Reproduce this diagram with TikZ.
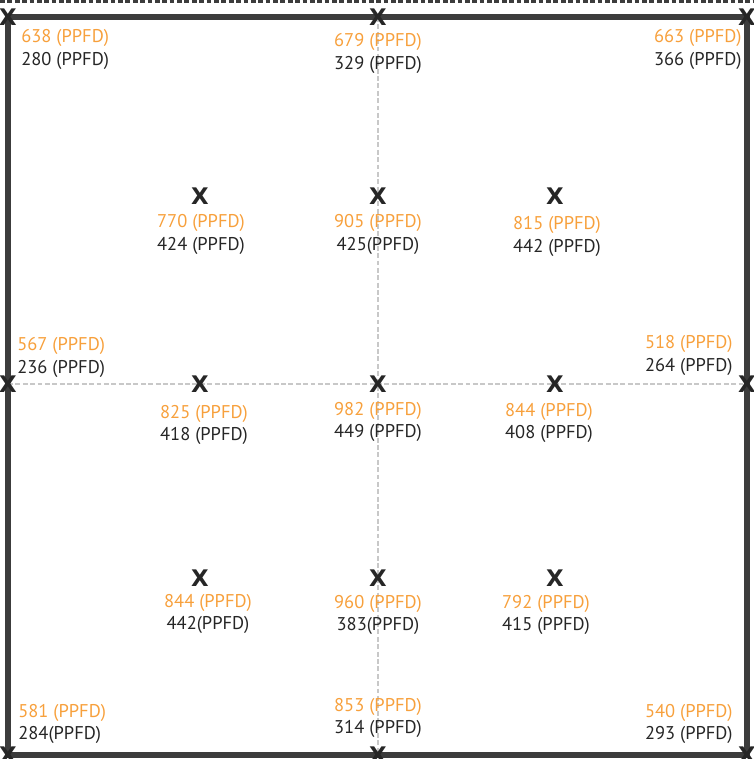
\documentclass[tikz,border=0pt]{standalone}
\usepackage{fontspec}
\setmainfont{PT Sans}
\newfontfamily\markfont{DejaVu Sans}
\usetikzlibrary{positioning,calc}

\definecolor{ppfdorange}{HTML}{F7A03C}
\definecolor{ppfddark}{HTML}{262626}
\definecolor{framegray}{HTML}{3C3C3C}
\definecolor{guidegray}{HTML}{C8C8C8}

\tikzset{
  frameline/.style={draw=framegray, line width=2.9pt},
  topline/.style={draw=framegray, line width=1.7pt, dash pattern=on 2.7pt off 1.5pt},
  guide/.style={draw=guidegray, line width=0.75pt, dash pattern=on 2.8pt off 1.4pt},
  xmark/.style={inner sep=0pt, text=ppfddark, font=\markfont\bfseries\fontsize{13}{13}\selectfont},
  hi/.style={inner sep=0pt, text=ppfdorange, font=\fontsize{10.5}{12}\selectfont},
  lo/.style={inner sep=0pt, text=ppfddark, font=\fontsize{10.5}{12}\selectfont}
}

\begin{document}
\begin{tikzpicture}[x=0.02cm, y=-0.02cm]
    \useasboundingbox (0,0) rectangle (753,759);

    % Measuring points
    \foreach \n/\px/\py in {nw/8/17, n/378/17, ne/747/17, w/8/384, e/747/384,
                            sw/8/755, s/378/755, se/747/755,
                            a1/200/196, a2/378/196, a3/555/196,
                            b1/200/384, b2/378/384, b3/555/384,
                            c1/200/578, c2/378/578, c3/555/578}
        \coordinate (p-\n) at (\px,\py);

    % Bench edge and frame
    \draw[topline] (0,2) -- (753,2);
    \draw[frameline] (p-nw) rectangle (p-se);

    % Centre lines
    \draw[guide] (p-n) -- (p-s);
    \draw[guide] (p-w) -- (p-e);

    % Sensor positions
    \foreach \n in {nw,n,ne,w,e,sw,s,se,a1,a2,a3,b1,b2,b3,c1,c2,c3}
        \node[xmark] (x-\n) at (p-\n) {X};

    % Readings
    \foreach \n/\px/\py/\anc/\hv/\lv in {
        nw/21/43/base west/{638 (PPFD)}/{280 (PPFD)},
        n/378/47/base/{679 (PPFD)}/{329 (PPFD)},
        ne/742/43/base east/{663 (PPFD)}/{366 (PPFD)},
        a1/201/228/base/{770 (PPFD)}/{424 (PPFD)},
        a2/378/228/base/{905 (PPFD)}/{425(PPFD)},
        a3/557/230/base/{815 (PPFD)}/{442 (PPFD)},
        w/17/351/base west/{567 (PPFD)}/{236 (PPFD)},
        e/733/349/base east/{518 (PPFD)}/{264 (PPFD)},
        b1/204/418/base/{825 (PPFD)}/{418 (PPFD)},
        b2/378/415/base/{982 (PPFD)}/{449 (PPFD)},
        b3/549/416/base/{844 (PPFD)}/{408 (PPFD)},
        c1/208/607/base/{844 (PPFD)}/{442(PPFD)},
        c2/378/608/base/{960 (PPFD)}/{383(PPFD)},
        c3/546/608/base/{792 (PPFD)}/{415 (PPFD)},
        sw/18/717/base west/{581 (PPFD)}/{284(PPFD)},
        s/378/711/base/{853 (PPFD)}/{314 (PPFD)},
        se/733/717/base east/{540 (PPFD)}/{293 (PPFD)}}{
        \node[hi, anchor=\anc] (hi-\n) at (\px,\py) {\hv};
        \node[lo, anchor=\anc] (lo-\n) at ([yshift=-0.45cm]hi-\n.\anc) {\lv};
    }
\end{tikzpicture}
\end{document}
